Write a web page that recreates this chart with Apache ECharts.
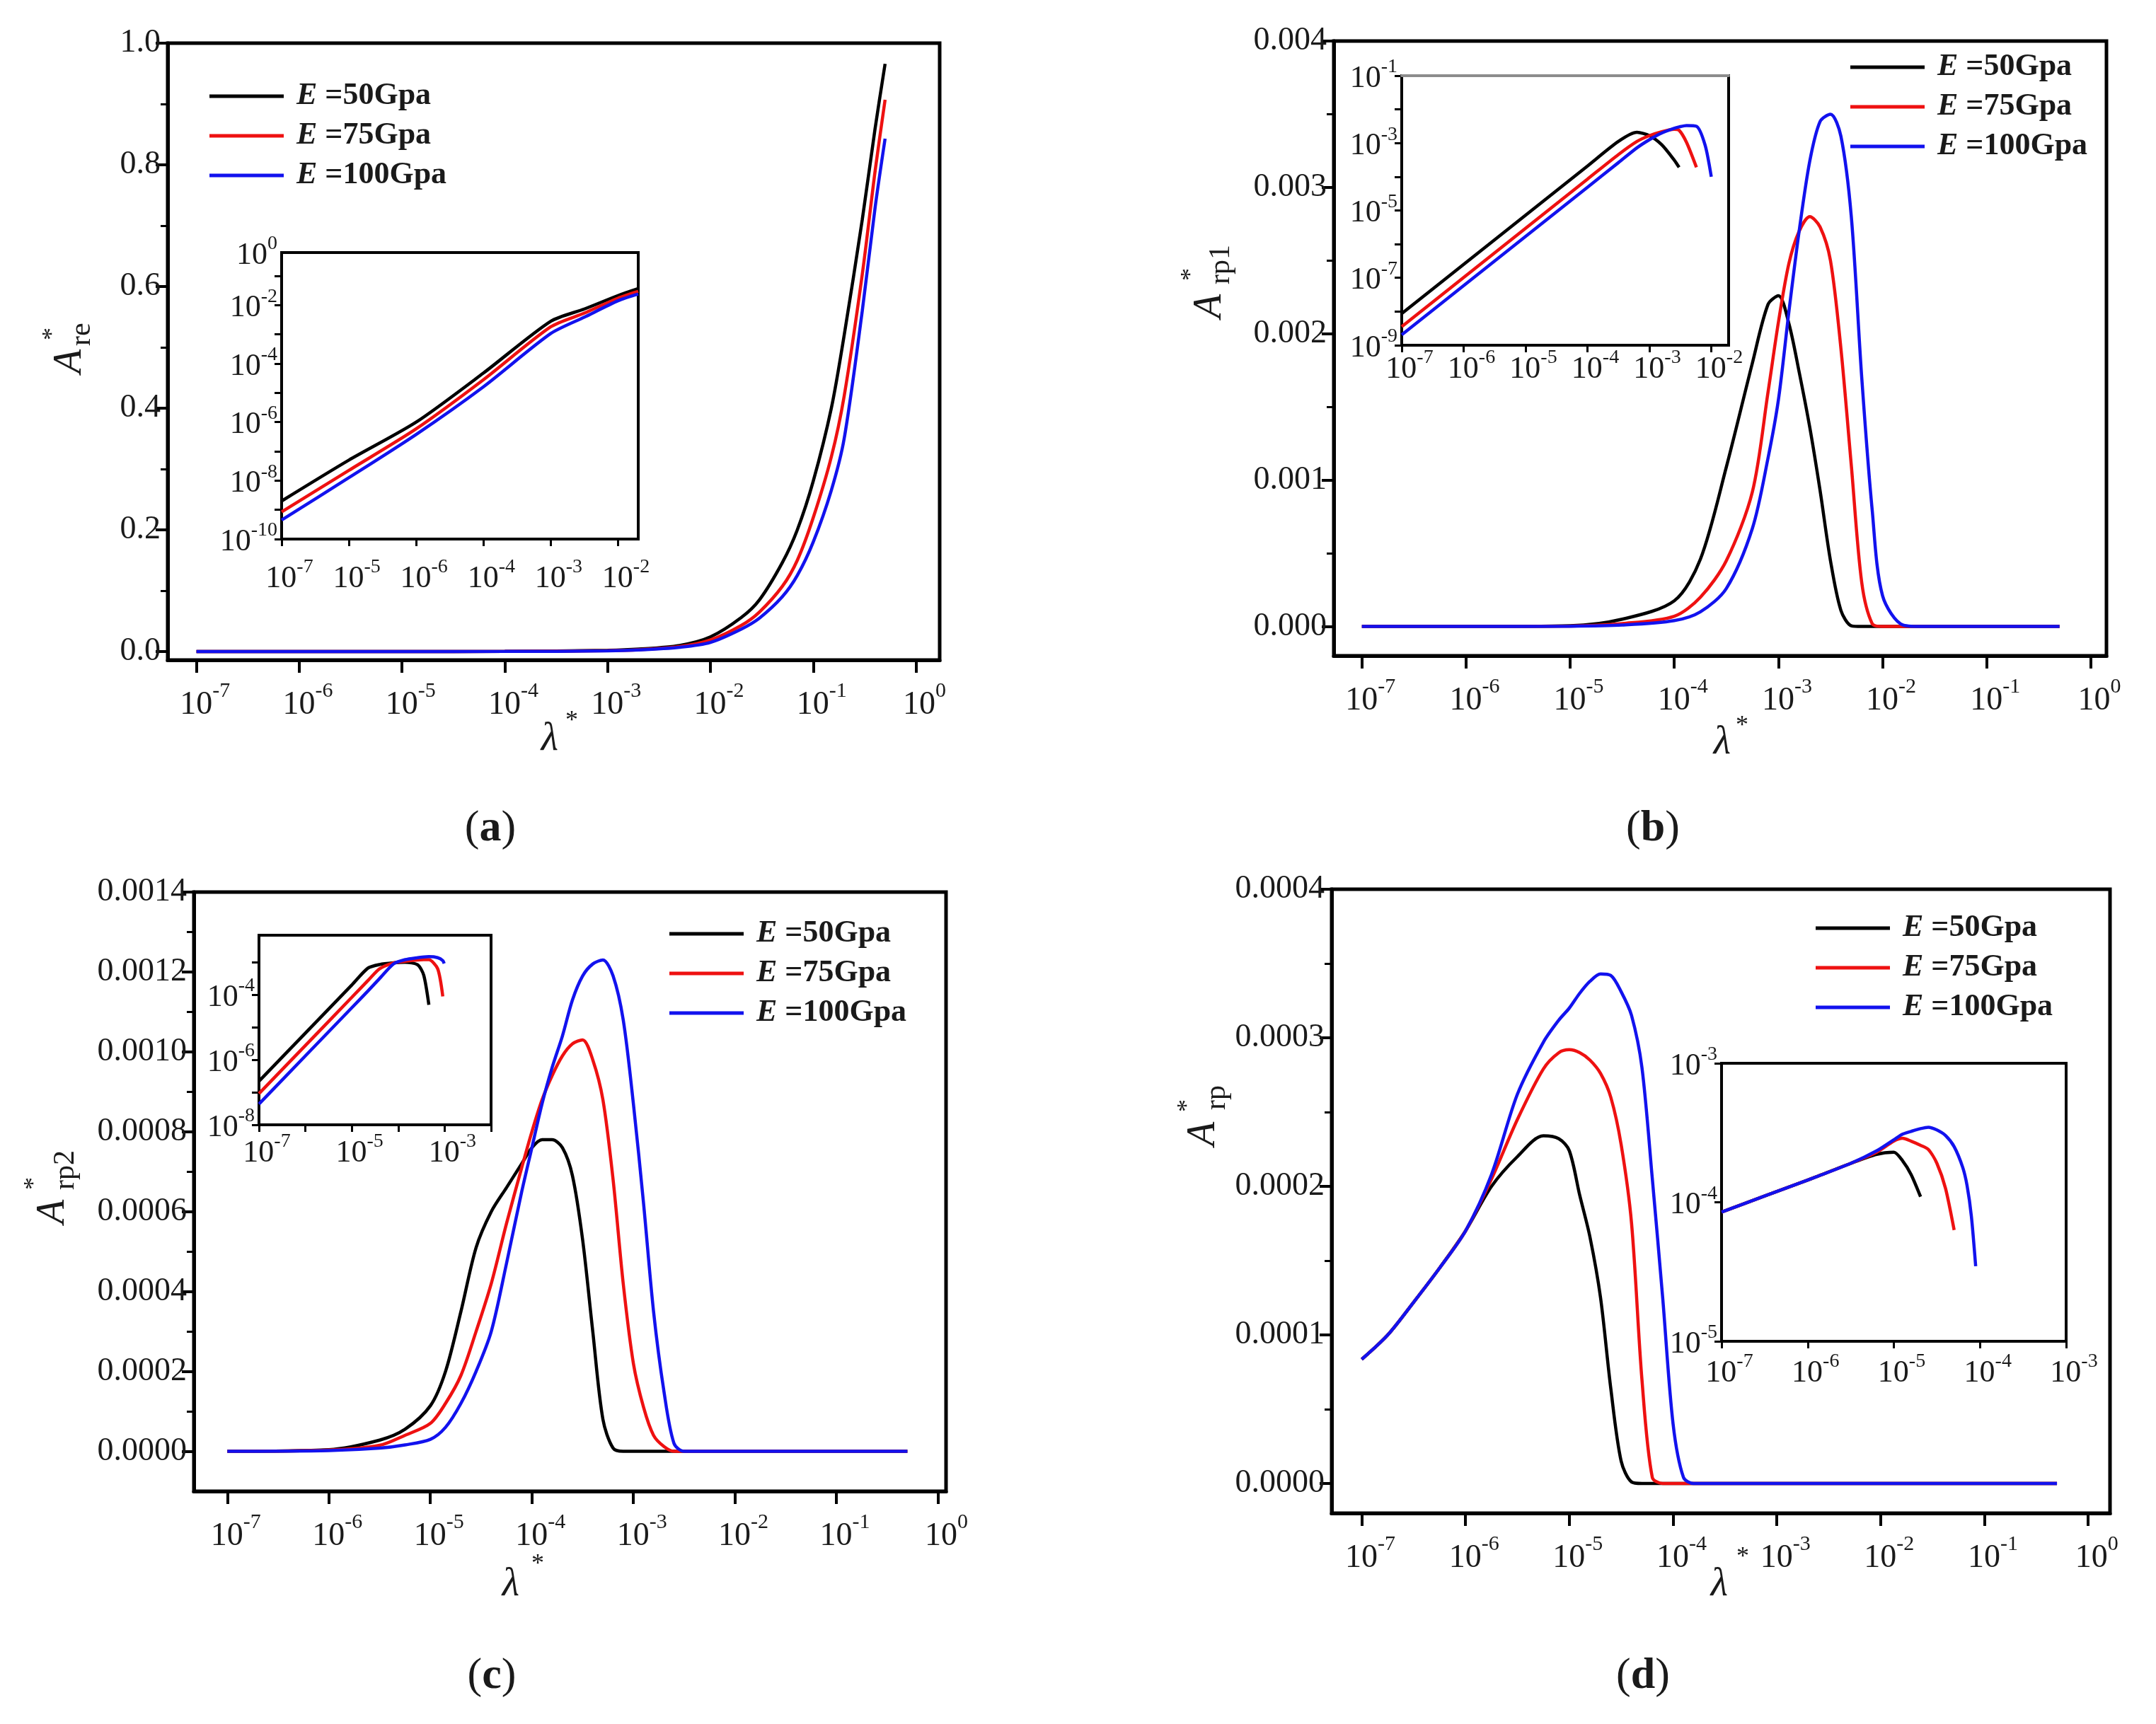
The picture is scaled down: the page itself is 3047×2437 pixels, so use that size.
<!DOCTYPE html>
<html><head><meta charset="utf-8">
<script src="https://cdn.jsdelivr.net/npm/echarts@6/dist/echarts.min.js"></script>
<style>html,body{margin:0;padding:0;background:#fff;}#c{width:3047px;height:2437px;}</style>
</head><body><div id="c"></div>
<script>
// ---------------- DATA ----------------
const seriesNames = ['E =50Gpa', 'E =75Gpa', 'E =100Gpa'];

// (a) main: A*re vs lambda*
const lamA = [1e-7, 1e-6, 1e-5, 1e-4, 1e-3, 2e-3, 5e-3, 1e-2, 2e-2, 3e-2, 5e-2, 7e-2, 0.1, 0.15, 0.2, 0.3, 0.4, 0.5];
const areE50 = [0, 0, 0, 0.0001, 0.002, 0.004, 0.010, 0.024, 0.056, 0.085, 0.146, 0.20, 0.28, 0.40, 0.52, 0.71, 0.86, 0.966];
const areE75 = [0, 0, 0, 0.0001, 0.0015, 0.003, 0.008, 0.019, 0.043, 0.065, 0.107, 0.15, 0.22, 0.32, 0.42, 0.62, 0.79, 0.907];
const areE100 = [0, 0, 0, 0.0001, 0.001, 0.0025, 0.007, 0.015, 0.037, 0.055, 0.09, 0.125, 0.18, 0.265, 0.35, 0.56, 0.73, 0.843];
// (a) inset (log-log)
const insA_lam = [1e-7, 1e-6, 1e-5, 1e-4, 1e-3, 3.162e-3, 1e-2, 1.995e-2];
const insA_E50 = [1.995e-9, 5.012e-8, 1e-6, 4.786e-5, 2.818e-3, 7.413e-3, 2.138e-2, 3.715e-2];
const insA_E75 = [8.511e-10, 2.239e-8, 5.888e-7, 2.818e-5, 1.82e-3, 5.37e-3, 1.738e-2, 2.951e-2];
const insA_E100 = [4.467e-10, 1.259e-8, 3.802e-7, 1.622e-5, 1.072e-3, 3.89e-3, 1.413e-2, 2.399e-2];

// (b) main: A*rp1
const lamB = [1e-7, 1e-6, 1e-5, 3.16e-5, 1e-4, 1.78e-4, 3.16e-4, 5.62e-4, 7.94e-4, 1e-3, 1.26e-3, 1.58e-3, 2e-3, 2.51e-3, 3.16e-3, 3.98e-3, 5.01e-3, 6.31e-3, 7.94e-3, 1e-2, 1.58e-2, 2.51e-2, 0.1, 0.5];
const rp1E50 = [0, 0, 0.000005, 0.00005, 0.000176, 0.00046, 0.00109, 0.0018, 0.0022, 0.00226, 0.00207, 0.00174, 0.00136, 0.00093, 0.00045, 0.00011, 0.000005, 0, 0, 0, 0, 0, 0, 0];
const rp1E75 = [0, 0, 0.000003, 0.00002, 0.00007, 0.0002, 0.00045, 0.00092, 0.0016, 0.00208, 0.00248, 0.0027, 0.0028, 0.00273, 0.0025, 0.0019, 0.0011, 0.0003, 0.00002, 0, 0, 0, 0, 0];
const rp1E100 = [0, 0, 0.000002, 0.00001, 0.00004, 0.0001, 0.00026, 0.00067, 0.00115, 0.00155, 0.00215, 0.0027, 0.00318, 0.00345, 0.0035, 0.00335, 0.0028, 0.0017, 0.0008, 0.00021, 0.00001, 0, 0, 0];
// (b) inset
const insB_lam = [1e-7, 1e-6, 1e-5, 1e-4, 3.162e-4, 6.31e-4, 1e-3, 1.585e-3, 2.512e-3, 3.02e-3, 3.981e-3, 5.754e-3, 7.943e-3, 1e-2];
const insB_E50 = [8.71e-9, 2.512e-7, 7.244e-6, 2.089e-4, 1.122e-3, 2.089e-3, 1.66e-3, 8.91e-4, 3.162e-4, 1.905e-4, null, null, null, null];
const insB_E75 = [3.548e-9, 1.023e-7, 2.951e-6, 8.511e-5, 4.571e-4, 1.122e-3, 1.66e-3, 2.188e-3, 2.57e-3, 2.4e-3, 1.047e-3, 1.905e-4, null, null];
const insB_E100 = [2.042e-9, 5.888e-8, 1.698e-6, 4.898e-5, 2.63e-4, 7.244e-4, 1.259e-3, 1.995e-3, 2.754e-3, 3.02e-3, 3.311e-3, 3.162e-3, 8.71e-4, 1e-4];

// (c) main: A*rp2
const lamC = [1e-7, 1e-6, 3.16e-6, 5.62e-6, 1e-5, 1.41e-5, 2e-5, 2.82e-5, 3.98e-5, 5.62e-5, 7.94e-5, 1e-4, 1.26e-4, 1.58e-4, 2e-4, 2.51e-4, 3.16e-4, 3.98e-4, 5.01e-4, 6.31e-4, 7.94e-4, 1e-3, 1.26e-3, 1.58e-3, 2e-3, 2.51e-3, 3.16e-3, 1e-2, 0.5];
const rp2E50 = [0, 0.000004, 0.000028, 0.000055, 0.000114, 0.0002, 0.00035, 0.00051, 0.0006, 0.00066, 0.00072, 0.00076, 0.00078, 0.00078, 0.00076, 0.00069, 0.00053, 0.0003, 0.00008, 0.000008, 0, 0, 0, 0, 0, 0, 0, 0, 0];
const rp2E75 = [0, 0.000003, 0.000015, 0.00004, 0.00007, 0.00012, 0.00019, 0.0003, 0.00042, 0.00057, 0.00071, 0.0008, 0.00088, 0.00094, 0.00099, 0.00102, 0.00103, 0.00098, 0.00088, 0.00068, 0.00042, 0.00022, 0.00011, 0.00004, 0.000012, 0, 0, 0, 0];
const rp2E100 = [0, 0.000002, 0.000008, 0.000016, 0.00003, 0.00006, 0.00012, 0.0002, 0.0003, 0.00047, 0.00065, 0.00076, 0.00087, 0.00096, 0.00104, 0.00113, 0.00119, 0.00122, 0.00123, 0.00119, 0.00108, 0.00087, 0.00062, 0.00035, 0.00015, 0.00002, 0, 0, 0];
// (c) inset
const insC_lam = [1e-7, 1e-6, 1e-5, 2.239e-5, 3.981e-5, 7.943e-5, 1.413e-4, 2.63e-4, 3.548e-4, 4.571e-4, 7.079e-4, 9.12e-4, 9.772e-4];
const insC_E50 = [2.188e-7, 6.607e-6, 1.995e-4, 6.607e-4, 8.511e-4, 9.55e-4, 1e-3, 8.318e-4, 3.981e-4, 4.898e-5, null, null, null];
const insC_E75 = [9.12e-8, 2.754e-6, 8.318e-5, 2.754e-4, 6.31e-4, 9.55e-4, 1.072e-3, 1.175e-3, 1.202e-3, 1.202e-3, 6.31e-4, 8.913e-5, null];
const insC_E100 = [4.365e-8, 1.318e-6, 3.981e-5, 1.318e-4, 3.162e-4, 8.913e-4, 1.202e-3, 1.38e-3, 1.445e-3, 1.479e-3, 1.38e-3, 1.122e-3, 9.12e-4];

// (d) main: A*rp
const lamD = [1e-7, 1.78e-7, 3.16e-7, 5.62e-7, 1e-6, 1.78e-6, 3.16e-6, 5.62e-6, 7.94e-6, 1e-5, 1.26e-5, 1.58e-5, 2e-5, 2.51e-5, 3.16e-5, 3.98e-5, 5.01e-5, 6.31e-5, 7.94e-5, 1e-4, 1.26e-4, 1.58e-4, 3.16e-4, 0.5];
const rpE50 = [0.0000836, 0.0001, 0.000122, 0.000145, 0.00017, 0.0002, 0.00022, 0.000234, 0.000232, 0.000224, 0.000194, 0.000166, 0.000125, 0.000064, 0.000015, 0.000001, 0, 0, 0, 0, 0, 0, 0, 0];
const rpE75 = [0.0000836, 0.0001, 0.000122, 0.000145, 0.00017, 0.000205, 0.000245, 0.000279, 0.00029, 0.000292, 0.00029, 0.000285, 0.000276, 0.00026, 0.000228, 0.000175, 0.00007, 0.000004, 0, 0, 0, 0, 0, 0];
const rpE100 = [0.0000836, 0.0001, 0.000122, 0.000145, 0.00017, 0.000208, 0.000262, 0.000297, 0.000312, 0.00032, 0.00033, 0.000338, 0.000343, 0.000342, 0.000331, 0.000315, 0.00028, 0.000205, 0.000125, 0.00004, 0.000004, 0, 0, 0];
// (d) inset
const insD_lam = [1e-7, 3.162e-7, 1e-6, 3.162e-6, 6.31e-6, 1e-5, 1.259e-5, 1.585e-5, 2.042e-5, 2.512e-5, 3.162e-5, 3.981e-5, 5.012e-5, 6.31e-5, 7.079e-5, 7.943e-5, 8.913e-5];
const insD_E50 = [8.51e-5, 1.109e-4, 1.445e-4, 1.905e-4, 2.213e-4, 2.29e-4, 1.995e-4, 1.585e-4, 1.096e-4, null, null, null, null, null, null, null, null];
const insD_E75 = [8.51e-5, 1.109e-4, 1.445e-4, 1.905e-4, 2.291e-4, 2.754e-4, 2.884e-4, 2.754e-4, 2.57e-4, 2.399e-4, 1.905e-4, 1.259e-4, 6.31e-5, null, null, null, null];
const insD_E100 = [8.51e-5, 1.109e-4, 1.445e-4, 1.905e-4, 2.344e-4, 2.818e-4, 3.09e-4, 3.236e-4, 3.388e-4, 3.467e-4, 3.311e-4, 3.02e-4, 2.512e-4, 1.778e-4, 1.318e-4, 7.943e-5, 3.467e-5];

// ---------------- TICKS ----------------
const mainXTicks = [1e-7, 1e-6, 1e-5, 1e-4, 1e-3, 1e-2, 1e-1, 1];
const yTicksA = [0, 0.2, 0.4, 0.6, 0.8, 1.0];
const yMinorA = [0.1, 0.3, 0.5, 0.7, 0.9];
const yTicksB = [0, 0.001, 0.002, 0.003, 0.004];
const yMinorB = [0.0005, 0.0015, 0.0025, 0.0035];
const yTicksC = [0, 0.0002, 0.0004, 0.0006, 0.0008, 0.0010, 0.0012, 0.0014];
const yMinorC = [0.0001, 0.0003, 0.0005, 0.0007, 0.0009, 0.0011, 0.0013];
const yTicksD = [0, 0.0001, 0.0002, 0.0003, 0.0004];
const yMinorD = [0.00005, 0.00015, 0.00025, 0.00035];
const insA_xTicks = [1e-7, 1e-6, 1e-5, 1e-4, 1e-3, 1e-2];
const insA_xTickText = ['-7', '-5', '-6', '-4', '-3', '-2'];
const insA_yTicks = [1e-10, 1e-9, 1e-8, 1e-7, 1e-6, 1e-5, 1e-4, 1e-3, 1e-2, 1e-1];
const insA_yLabels = [1e-10, 1e-8, 1e-6, 1e-4, 1e-2, 0.63];
const insB_xTicks = [1e-7, 1e-6, 1e-5, 1e-4, 1e-3, 1e-2];
const insB_yTicks = [1e-9, 1e-8, 1e-7, 1e-6, 1e-5, 1e-4, 1e-3, 1e-2, 1e-1];
const insB_yLabels = [1e-9, 1e-7, 1e-5, 1e-3, 1e-1];
const insC_xTicks = [1e-7, 1e-6, 1e-5, 1e-4, 1e-3, 1e-2];
const insC_xLabels = [1e-7, 1e-5, 1e-3];
const insC_yTicks = [1e-8, 1e-7, 1e-6, 1e-5, 1e-4, 1e-3];
const insC_yLabels = [1e-8, 1e-6, 1e-4];
const insD_xTicks = [1e-7, 1e-6, 1e-5, 1e-4, 1e-3];
const insD_yTicks = [1e-5, 1e-4, 1e-3];

// ---------------- STYLE / BUILD ----------------
const COLORS = ['#000000', '#ee1111', '#1212ee'];
const SERIF = '"Liberation Serif", "Times New Roman", serif';
const TXT = '#1a1a1a';

const expOf = v => Math.round(Math.log10(v)) || 0;
function expRich(bs, ss, blh, slh) {
  return {
    b: { fontFamily: SERIF, fontSize: bs, lineHeight: blh, verticalAlign: 'bottom', color: TXT },
    s: { fontFamily: SERIF, fontSize: ss, lineHeight: slh, verticalAlign: 'top', color: TXT }
  };
}
const richMain = expRich(46, 30, 58, 26);
const richIns = expRich(44, 28, 52, 24);
const fmtExp = v => '{b|10}{s|' + expOf(v) + '}';
const fmtInsA = v => '{b|10}{s|' + insA_xTickText[expOf(v) + 7] + '}';

const gridBoxes = [
  [237, 61, 1091, 872], [398, 357, 504, 405],
  [1885, 58, 1092, 869], [1981, 107, 462, 381],
  [274, 1261, 1063, 847], [366, 1322, 328, 268],
  [1882, 1257, 1100, 882], [2433, 1503, 487, 393]
];
const grids = gridBoxes.map((b, i) => ({
  show: true, left: b[0], top: b[1], width: b[2], height: b[3],
  borderColor: '#000', borderWidth: i % 2 === 0 ? 5 : 4, backgroundColor: 'transparent',
  containLabel: false, outerBoundsMode: 'none'
}));

function mainX(gi, min, max) {
  return {
    type: 'log', logBase: 10, gridIndex: gi, min, max, position: 'bottom',
    axisLine: { show: true, onZero: false, lineStyle: { color: '#000', width: 5 } },
    axisTick: { show: true, inside: false, length: 18, lineStyle: { color: '#000', width: 4 }, customValues: mainXTicks },
    axisLabel: { show: true, customValues: mainXTicks, margin: 29, padding: [0, 0, 0, 24], hideOverlap: false, formatter: fmtExp, rich: richMain },
    splitLine: { show: false }, minorTick: { show: false }, minorSplitLine: { show: false }
  };
}
function mainY(gi, min, max, ticks, dec) {
  return {
    type: 'value', gridIndex: gi, min, max, position: 'left',
    axisLine: { show: true, onZero: false, lineStyle: { color: '#000', width: 5 } },
    axisTick: { show: true, inside: false, length: 17, lineStyle: { color: '#000', width: 4 }, customValues: ticks },
    axisLabel: { show: true, customValues: ticks, margin: 10, hideOverlap: false, formatter: v => v.toFixed(dec), fontFamily: SERIF, fontSize: 46, color: TXT },
    splitLine: { show: false }
  };
}
function minorY(gi, min, max, ticks) {
  return {
    type: 'value', gridIndex: gi, min, max, position: 'left',
    axisLine: { show: false, onZero: false },
    axisTick: { show: true, inside: false, length: 10, lineStyle: { color: '#000', width: 3 }, customValues: ticks },
    axisLabel: { show: false }, splitLine: { show: false }
  };
}
function insX(gi, min, max, ticks, labels, fmt, margin) {
  return {
    type: 'log', logBase: 10, gridIndex: gi, min, max, position: 'bottom',
    axisLine: { show: true, onZero: false, lineStyle: { color: '#000', width: 4 } },
    axisTick: { show: true, inside: false, length: 10, lineStyle: { color: '#000', width: 3 }, customValues: ticks },
    axisLabel: { show: true, customValues: labels, margin, padding: [0, 0, 0, 22], hideOverlap: false, formatter: fmt, rich: richIns },
    splitLine: { show: false }, minorTick: { show: false }
  };
}
function insY(gi, min, max, ticks, labels) {
  return {
    type: 'log', logBase: 10, gridIndex: gi, min, max, position: 'left',
    axisLine: { show: true, onZero: false, lineStyle: { color: '#000', width: 4 } },
    axisTick: { show: true, inside: false, length: 10, lineStyle: { color: '#000', width: 3 }, customValues: ticks },
    axisLabel: { show: true, customValues: labels, margin: 6, hideOverlap: false, formatter: fmtExp, rich: richIns },
    splitLine: { show: false }, minorTick: { show: false }
  };
}

const xAxes = [
  mainX(0, 5.25e-8, 1.698),
  insX(1, 0.9999e-7, 1.995e-2, insA_xTicks, insA_xTicks, fmtInsA, 26),
  mainX(2, 5.37e-8, 1.413),
  insX(3, 0.9999e-7, 1.905e-2, insB_xTicks, insB_xTicks, fmtExp, 4),
  mainX(4, 4.68e-8, 1.202),
  insX(5, 0.9999e-7, 1.0001e-2, insC_xTicks, insC_xLabels, fmtExp, 10),
  mainX(6, 5.13e-8, 1.622),
  insX(7, 0.9999e-7, 1.0001e-3, insD_xTicks, insD_xTicks, fmtExp, 15),
  { type: 'log', logBase: 10, gridIndex: 3, min: 0.9999e-7, max: 1.905e-2, position: 'top', z: 5,
    axisLine: { show: true, onZero: false, lineStyle: { color: '#8c8c8c', width: 4 } },
    axisTick: { show: false }, axisLabel: { show: false }, splitLine: { show: false } }
];
const yAxes = [
  mainY(0, -0.014, 1.0, yTicksA, 1),
  insY(1, 0.9999e-10, 0.631, insA_yTicks, insA_yLabels),
  mainY(2, -0.0002, 0.004, yTicksB, 3),
  insY(3, 0.9999e-9, 1.0001e-1, insB_yTicks, insB_yLabels),
  mainY(4, -0.0001, 0.0014, yTicksC, 4),
  insY(5, 0.9999e-8, 6.761e-3, insC_yTicks, insC_yLabels),
  mainY(6, -0.00002, 0.0004, yTicksD, 4),
  insY(7, 0.9999e-5, 1.0001e-3, insD_yTicks, insD_yTicks),
  minorY(0, -0.014, 1.0, yMinorA),
  minorY(2, -0.0002, 0.004, yMinorB),
  minorY(4, -0.0001, 0.0014, yMinorC),
  minorY(6, -0.00002, 0.0004, yMinorD)
];

function mkSeries(gi, lam, vals, idx, smooth) {
  const data = [];
  lam.forEach((x, i) => { if (vals[i] !== null && vals[i] !== undefined) data.push([x, vals[i]]); });
  return {
    type: 'line', name: seriesNames[idx], xAxisIndex: gi, yAxisIndex: gi, data,
    showSymbol: false, symbol: 'none', smooth, silent: true, z: 2 + idx,
    lineStyle: { color: COLORS[idx], width: 4.5 }, itemStyle: { color: COLORS[idx] }
  };
}
const panelData = [
  [0, lamA, [areE50, areE75, areE100], 0.3],
  [1, insA_lam, [insA_E50, insA_E75, insA_E100], 0.25],
  [2, lamB, [rp1E50, rp1E75, rp1E100], 0.3],
  [3, insB_lam, [insB_E50, insB_E75, insB_E100], 0.25],
  [4, lamC, [rp2E50, rp2E75, rp2E100], 0.3],
  [5, insC_lam, [insC_E50, insC_E75, insC_E100], 0.25],
  [6, lamD, [rpE50, rpE75, rpE100], 0.3],
  [7, insD_lam, [insD_E50, insD_E75, insD_E100], 0.25]
];
const series = [];
panelData.forEach(p => p[2].forEach((vals, k) => series.push(mkSeries(p[0], p[1], vals, k, p[3]))));

function legendAt(left, top) {
  return {
    show: true, orient: 'vertical', left, top, padding: 0, itemWidth: 105, itemHeight: 5, itemGap: 12,
    icon: 'rect', selectedMode: false, data: seriesNames, itemStyle: { borderWidth: 0 },
    formatter: n => '{i|E}{t|' + n.slice(1) + '}',
    textStyle: {
      padding: [0, 0, 0, 13],
      rich: {
        i: { fontFamily: SERIF, fontSize: 44, fontStyle: 'italic', fontWeight: 'bold', color: TXT, lineHeight: 46 },
        t: { fontFamily: SERIF, fontSize: 44, fontWeight: 'bold', color: TXT, lineHeight: 46 }
      }
    }
  };
}
const legends = [legendAt(296, 114), legendAt(2615, 73), legendAt(946, 1298), legendAt(2566, 1290)];

// ---------------- TITLES (graphic text) ----------------
function txt(x, y, text, size, opts) {
  opts = opts || {};
  return {
    type: 'text', x, y, rotation: opts.rot || 0, silent: true, z: 100,
    style: {
      text, fontFamily: SERIF, fontSize: size, fontStyle: opts.italic ? 'italic' : 'normal',
      fontWeight: opts.bold ? 'bold' : 'normal', fill: TXT,
      align: opts.align || 'center', textAlign: opts.align || 'center',
      verticalAlign: 'middle', textVerticalAlign: 'middle'
    }
  };
}
function yTitle(ax, ay, sub, subX, subY, sx, sy) {
  const R = Math.PI / 2;
  return [
    txt(ax, ay, 'A', 56, { rot: R, italic: true, align: 'left' }),
    txt(subX, subY, sub, 42, { rot: R, align: 'left' }),
    txt(sx, sy, '*', 36, { rot: R, align: 'left' })
  ];
}
function xTitle(lx, ly, sx, sy) {
  return [txt(lx, ly, 'λ', 56, { italic: true }), txt(sx, sy, '*', 36)];
}
function panelLabel(x, y, letter) {
  return {
    type: 'text', x, y, silent: true, z: 100,
    style: {
      text: '{p|(}{b|' + letter + '}{p|)}', align: 'center', textAlign: 'center', verticalAlign: 'middle', textVerticalAlign: 'middle',
      rich: {
        p: { fontFamily: SERIF, fontSize: 62, fill: TXT },
        b: { fontFamily: SERIF, fontSize: 62, fontWeight: 'bold', fill: TXT }
      }
    }
  };
}
const graphics = [].concat(
  yTitle(99, 528, 're', 116, 489, 75, 481),
  yTitle(1710, 450, 'rp1', 1726, 402, 1684, 397),
  yTitle(75, 1730, 'rp2', 93, 1682, 49, 1682),
  yTitle(1701, 1620, 'rp', 1720, 1569, 1679, 1572),
  xTitle(777, 1045, 808, 1020),
  xTitle(2434, 1050, 2462, 1027),
  xTitle(722, 2240, 760, 2212),
  xTitle(2430, 2240, 2463, 2202),
  [panelLabel(693, 1172, 'a'), panelLabel(2336, 1172, 'b'), panelLabel(695, 2370, 'c'), panelLabel(2322, 2370, 'd')]
);

const chart = echarts.init(document.getElementById('c'), null, { renderer: 'canvas' });
chart.setOption({
  animation: false,
  backgroundColor: '#ffffff',
  grid: grids,
  xAxis: xAxes,
  yAxis: yAxes,
  legend: legends,
  series,
  graphic: { elements: graphics }
});
</script>
</body></html>
